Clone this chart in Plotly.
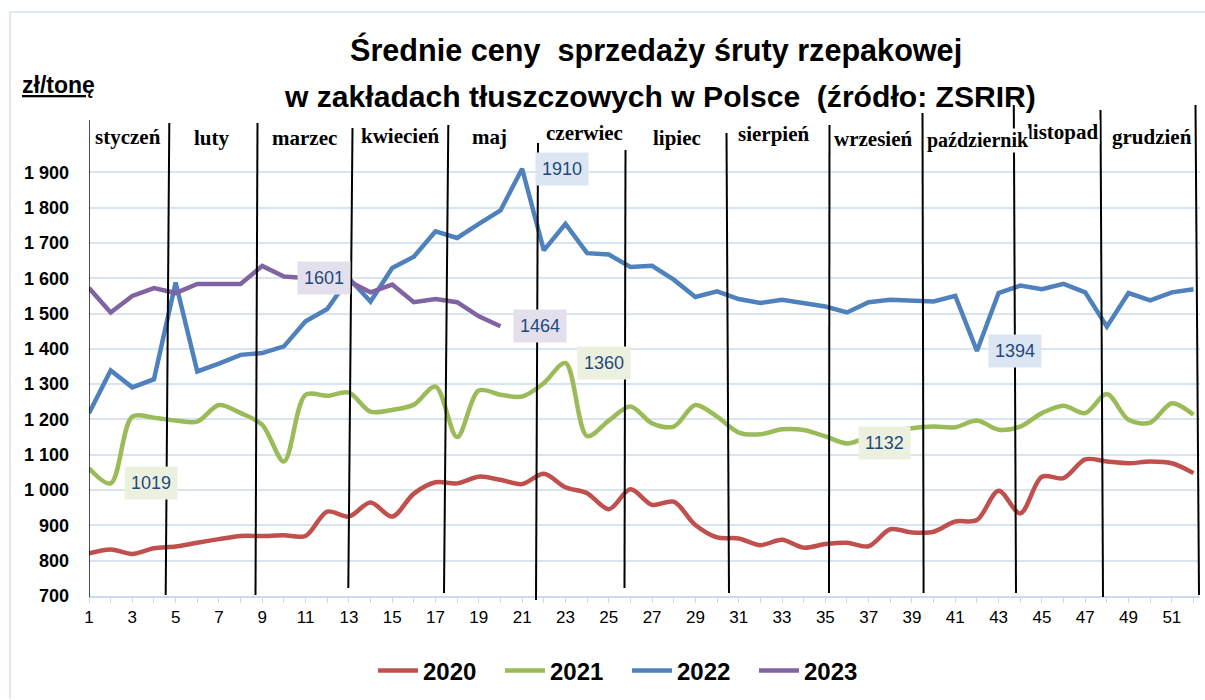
import plotly.graph_objects as go

weeks = list(range(1, 53))

y2020 = [821, 832, 819, 835, 840, 851, 861, 870, 870, 872, 870, 939, 925, 965, 925, 990,
         1022, 1019, 1038, 1029, 1017, 1046, 1008, 991, 946, 1002, 958, 967, 901, 866,
         863, 844, 859, 837, 847, 851, 841, 889, 880, 882, 911, 915, 998, 934, 1038, 1034,
         1087, 1081, 1076, 1081, 1076, 1048]
y2021 = [1062, 1019, 1208, 1205, 1197, 1194, 1241, 1218, 1185, 1081, 1270, 1267, 1276, 1222,
         1227, 1242, 1293, 1150, 1282, 1270, 1265, 1303, 1360, 1153, 1197, 1237, 1189, 1180,
         1241, 1208, 1163, 1158, 1172, 1170, 1152, 1132, 1150, 1165, 1175, 1180, 1178, 1197,
         1171, 1180, 1218, 1239, 1218, 1272, 1199, 1191, 1246, 1213]
y2022 = [1218, 1339, 1291, 1314, 1588, 1336, 1358, 1383, 1388, 1407, 1478, 1513, 1600, 1534,
         1629, 1661, 1733, 1714, 1754, 1792, 1910, 1679, 1754, 1671, 1667, 1632, 1635, 1596,
         1547, 1563, 1541, 1530, 1539, 1530, 1520, 1503, 1532, 1539, 1537, 1534, 1550, 1394,
         1558, 1579, 1569, 1584, 1560, 1463, 1558, 1537, 1560, 1569]
y2023 = [1572, 1503, 1550, 1572, 1558, 1584, 1584, 1584, 1635, 1605, 1601, 1612, 1591, 1560,
         1582, 1532, 1541, 1532, 1492, 1464]

series_names = ["2020", "2021", "2022", "2023"]
series_values = [y2020, y2021, y2022, y2023]
series_colors = ["#C0504D", "#9BBB59", "#4F81BD", "#8064A2"]
series_shapes = ["spline", "spline", "linear", "linear"]

months = ["styczeń", "luty", "marzec", "kwiecień", "maj", "czerwiec", "lipiec",
          "sierpień", "wrzesień", "październik", "listopad", "grudzień"]

# labelled points: (series index, week)
labelled = [(2, 21), (3, 20), (1, 23), (1, 2), (1, 36), (2, 42), (3, 11)]
label_fill = {0: "#F2DCDB", 1: "#EBF1DE", 2: "#DCE6F2", 3: "#E4DFEC"}

y_ticks = list(range(700, 2000, 100))
y_ticktext = [f"{v:,}".replace(",", " ") for v in y_ticks]

fig = go.Figure()
for name, vals, col, shp in zip(series_names, series_values, series_colors, series_shapes):
    fig.add_trace(go.Scatter(
        x=weeks[:len(vals)], y=vals, name=name, mode="lines",
        line=dict(color=col, width=4.5, shape=shp, smoothing=0.9),
    ))

# layout geometry
L, R, T, B = 89, 5, 137, 104
W, H = 1205, 700
PW, PH = W - L - R, H - T - B
XMIN, XMAX = 1, 52.3
YMIN, YMAX = 700, 2000

def wk(px):
    return XMIN + (px - L) / PW * (XMAX - XMIN)

def py(pix):
    return (H - B - pix) / PH

# month divider lines (top x px, top y px, bottom x px, bottom y px)
dividers = [(88.7, 120, 88.7, 597), (169.3, 123, 165.7, 595), (257.5, 123, 255.5, 595),
            (352.5, 128, 348.3, 588), (448.3, 125, 444, 593), (538, 143, 536, 600),
            (625.5, 150, 624.5, 588), (726.5, 133, 729, 593), (829.5, 125, 829, 593),
            (922.5, 113, 923.6, 593), (1013.8, 105, 1016, 593), (1100.5, 110, 1103, 597),
            (1195.5, 105, 1199, 595)]
shapes = []
for tx, ty, bx, by in dividers:
    shapes.append(dict(type="line", xref="x", yref="paper", x0=wk(tx), y0=py(ty),
                       x1=wk(bx), y1=py(by), line=dict(color="black", width=2), layer="above"))
# outer chart border (left and top)
shapes.append(dict(type="line", xref="paper", yref="paper", x0=(10 - L) / PW, x1=(10 - L) / PW,
                   y0=py(699), y1=py(12), line=dict(color="#D6E0EC", width=1.5)))
shapes.append(dict(type="line", xref="paper", yref="paper", x0=(10 - L) / PW, x1=(1205 - L) / PW,
                   y0=py(12), y1=py(12), line=dict(color="#D6E0EC", width=1.5)))

annotations = []
month_pos = [(128, 137, 21), (212, 138, 21), (304, 138, 21), (400, 136, 21), (489, 137, 21),
             (584, 133, 21), (677, 138, 21), (773, 134, 21), (873, 139, 21), (978, 140, 20),
             (1063, 132, 21), (1152, 137, 21)]
month_items = list(zip(months, month_pos))
# draw "listopad" before "październik" so the latter stays on top
draw_order = [0, 1, 2, 3, 4, 5, 6, 7, 8, 10, 9, 11]
for i in draw_order:
    m, (mx, my, fs) = month_items[i]
    annotations.append(dict(text=m, x=wk(mx), y=py(my), xref="x", yref="paper",
                            showarrow=False, bgcolor="white", borderpad=0,
                            font=dict(family="Liberation Serif", size=fs, color="black", weight="bold"),
                            xanchor="center", yanchor="middle"))

label_shift = {(2, 21): 40, (3, 20): 40, (1, 23): 39, (1, 2): 40, (1, 36): 38, (2, 42): 38, (3, 11): 18}
for si, w in labelled:
    v = series_values[si][w - 1]
    annotations.append(dict(text=str(v), x=w, y=v, xref="x", yref="y", showarrow=False,
                            xshift=label_shift[(si, w)], bgcolor=label_fill[si], borderpad=6,
                            font=dict(family="Liberation Sans", size=18, color="#1F497D"),
                            xanchor="center", yanchor="middle"))

annotations.append(dict(text="Średnie ceny  sprzedaży śruty rzepakowej", x=(656 - L) / PW, y=py(50),
                        xref="paper", yref="paper", showarrow=False,
                        font=dict(family="Liberation Sans", size=30.6, color="black", weight="bold"),
                        xanchor="center", yanchor="middle"))
annotations.append(dict(text="w zakładach tłuszczowych w Polsce  (źródło: ZSRIR)", x=(660 - L) / PW, y=py(97),
                        xref="paper", yref="paper", showarrow=False,
                        font=dict(family="Liberation Sans", size=30.1, color="black", weight="bold"),
                        xanchor="center", yanchor="middle"))
annotations.append(dict(text="<u>zł/tonę</u>", x=(20 - L) / PW, y=py(85), xref="paper", yref="paper",
                        showarrow=False, font=dict(family="Liberation Sans", size=23, color="black", weight="bold"),
                        xanchor="left", yanchor="middle"))

fig.update_layout(
    width=W, height=H,
    margin=dict(l=L, r=R, t=T, b=B, pad=0),
    paper_bgcolor="white", plot_bgcolor="white",
    font=dict(family="Liberation Sans", color="black"),
    showlegend=True,
    legend=dict(orientation="h", x=(627 - L) / PW, xanchor="center", y=py(671), yanchor="middle",
                font=dict(family="Liberation Sans", size=24, color="black", weight="bold"),
                itemwidth=40, entrywidth=72, tracegroupgap=0),
    xaxis=dict(range=[XMIN, XMAX], tick0=1, dtick=2, showgrid=False, zeroline=False,
               showline=True, linecolor="#CCD9EA", linewidth=1.5,
               ticks="outside", ticklen=5, tickcolor="#CCD9EA",
               minor=dict(dtick=1, ticks="outside", ticklen=5, tickcolor="#CCD9EA"),
               tickfont=dict(family="Liberation Sans", size=17, color="black")),
    yaxis=dict(range=[YMIN, YMAX], tickvals=y_ticks, ticktext=y_ticktext, showgrid=True,
               gridcolor="#D9E4F1", gridwidth=1.5, zeroline=False, showline=False, ticks="",
               ticklabelstandoff=19,
               tickfont=dict(family="Liberation Sans", size=18, color="black", weight="bold")),
    shapes=shapes, annotations=annotations,
)

fig.write_html("out.html", config={"displayModeBar": False},
               post_script="document.body.style.margin='0';")
